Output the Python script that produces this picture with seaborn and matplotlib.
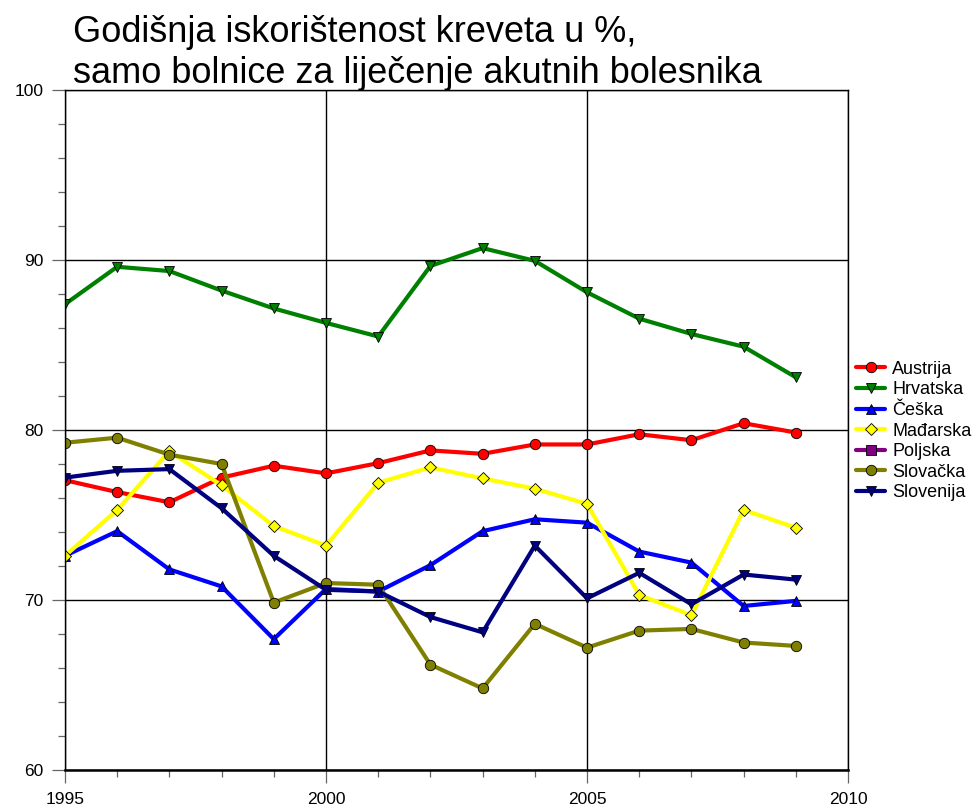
import numpy as np
import pandas as pd
import matplotlib
matplotlib.use("Agg")
import matplotlib.pyplot as plt
import seaborn as sns
from matplotlib.ticker import MultipleLocator

sns.set_style("white")
plt.rcParams["font.family"] = ["Liberation Sans", "DejaVu Sans"]
plt.rcParams["text.color"] = "black"

years = list(range(1995, 2010))

austrija = [77.05, 76.35, 75.75, 77.2, 77.9, 77.45, 78.05, 78.8, 78.6, 79.15, 79.15, 79.75, 79.4, 80.4, 79.85]
hrvatska = [87.4, 89.6, 89.35, 88.2, 87.15, 86.3, 85.5, 89.65, 90.7, 89.95, 88.1, 86.55, 85.65, 84.9, 83.1]
ceska = [72.6, 74.05, 71.8, 70.8, 67.7, 70.65, 70.5, 72.05, 74.05, 74.75, 74.55, 72.85, 72.2, 69.65, 69.95]
madarska = [72.6, 75.3, 78.75, 76.75, 74.35, 73.2, 76.9, 77.8, 77.15, 76.55, 75.65, 70.3, 69.1, 75.3, 74.25]
poljska = [np.nan] * 15
slovacka = [79.25, 79.55, 78.55, 78.0, 69.85, 71.0, 70.9, 66.2, 64.8, 68.6, 67.2, 68.2, 68.3, 67.5, 67.3]
slovenija = [77.2, 77.6, 77.7, 75.4, 72.6, 70.6, 70.5, 69.0, 68.1, 73.2, 70.1, 71.6, 69.75, 71.5, 71.2]

series = [
    ("Austrija", austrija, "#FF0000", "o"),
    ("Hrvatska", hrvatska, "#008000", "v"),
    ("Češka", ceska, "#0000FF", "^"),
    ("Mađarska", madarska, "#FFFF00", "D"),
    ("Poljska", poljska, "#800080", "s"),
    ("Slovačka", slovacka, "#808000", "o"),
    ("Slovenija", slovenija, "#000080", "v"),
]

fig = plt.figure(figsize=(9.74, 8.07), dpi=100)
ax = fig.add_axes([0.0667, 0.0458, 0.804, 0.8427])

for name, vals, color, marker in series:
    ms = 6 if marker == "D" else 7.5
    df = pd.DataFrame({"year": years, "value": vals})
    if df["value"].isna().all():
        # no data for this country, keep it in the legend only
        ax.plot(years, vals, color=color, marker=marker, markersize=ms,
                markeredgecolor="black", markeredgewidth=0.6, linewidth=3, label=name)
        continue
    sns.lineplot(data=df, x="year", y="value", ax=ax, color=color, marker=marker,
                 markersize=ms, markeredgecolor="black", markeredgewidth=0.6,
                 linewidth=3, label=name)

ax.set_xlim(1995, 2010)
ax.set_ylim(60, 100)
ax.xaxis.set_major_locator(MultipleLocator(5))
ax.xaxis.set_minor_locator(MultipleLocator(1))
ax.yaxis.set_major_locator(MultipleLocator(10))
ax.yaxis.set_minor_locator(MultipleLocator(2))
ax.tick_params(axis="both", which="major", direction="out", length=9.5, width=0.9,
               labelsize=12.5, color="#666666", labelcolor="black",
               bottom=True, left=True, pad=6)
ax.tick_params(axis="both", which="minor", direction="out", length=5, width=0.9,
               color="#666666", bottom=True, left=True)
ax.grid(True, which="major", color="black", linewidth=1)
ax.set_xlabel("")
ax.set_ylabel("")
for sp in ax.spines.values():
    sp.set_color("black")
    sp.set_linewidth(1)
ax.spines["bottom"].set_linewidth(1.8)

ax.legend(loc="upper left", bbox_to_anchor=(0.879, 0.553), bbox_transform=fig.transFigure,
          frameon=False, fontsize=13, handlelength=1.6, handletextpad=0.4,
          labelspacing=0.2, borderpad=0, borderaxespad=0)

fig.text(0.075, 1 - 42 / 807, "Godišnja iskorištenost kreveta u %,",
         ha="left", va="baseline", fontsize=26)
fig.text(0.075, 1 - 83 / 807, "samo bolnice za liječenje akutnih bolesnika",
         ha="left", va="baseline", fontsize=26)

fig.savefig("out.png", dpi=100)
